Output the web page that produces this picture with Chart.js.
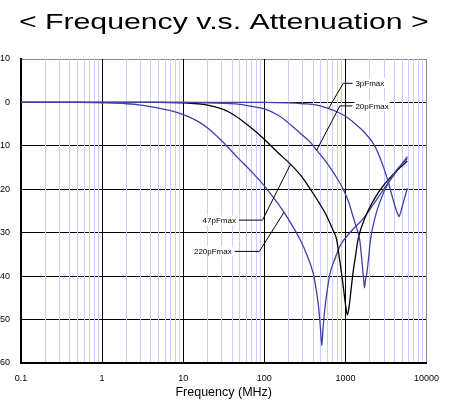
<!DOCTYPE html>
<html><head><meta charset="utf-8">
<script src="https://cdn.jsdelivr.net/npm/chart.js@4.4.1/dist/chart.umd.min.js"></script>
<style>html,body{margin:0;padding:0;background:#fff;}</style>
</head><body>
<canvas id="c" width="449" height="400"></canvas>
<script>
const titleText = '< Frequency v.s. Attenuation >';
const xAxisTitle = 'Frequency (MHz)';
const xDecades = [0.1, 1, 10, 100, 1000, 10000];
const xTickLabels = ['0.1', '1', '10', '100', '1000', '10000'];
const xMinorSteps = [2, 3, 4, 5, 6, 7, 8, 9];
const yTicks = [10, 0, -10, -20, -30, -40, -50, -60];
const yTickLabels = ['10', '0', '-10', '-20', '-30', '-40', '-50', '-60'];

const seriesNames = ['3pFmax', '20pFmax', '47pFmax', '220pFmax'];
const seriesColors = ['rgb(64,64,168)', 'rgb(64,64,168)', '#000000', 'rgb(64,64,168)'];

const f3  = [0.1, 100, 200, 300, 445, 600, 800, 1000, 1300, 1700, 2300, 2900, 3400, 3800, 4200, 4450, 4580, 4750, 5060, 5800];
const db3 = [0, 0, -0.1, -0.3, -0.6, -1.3, -2.2, -3.2, -4.8, -6.8, -10, -14.5, -18.5, -21.8, -24.6, -25.8, -26.3, -25.6, -23.7, -19.8];

const f20  = [0.1, 10, 20, 30, 47, 70, 100, 150, 195, 270, 370, 470, 590, 750, 940, 1100, 1240, 1380, 1500, 1580, 1650, 1690, 1720, 1760, 1840, 1940, 2040, 2400, 3000, 4000, 5800];
const db20 = [0, 0, -0.1, -0.2, -0.4, -0.9, -1.5, -3.0, -4.6, -6.9, -9.2, -11.6, -13.9, -16.8, -20.0, -23.0, -26.2, -29.0, -31.6, -35.5, -39.3, -41.2, -42.7, -41.2, -39.3, -35.5, -31.6, -25.5, -20.5, -16.3, -12.9];

const f47  = [0.1, 1, 5, 10, 15, 20, 30, 40, 57, 75, 100, 150, 210, 290, 370, 470, 590, 700, 780, 850, 920, 970, 1011, 1060, 1112, 1170, 1240, 1330, 1430, 1800, 2400, 3200, 4300, 5800];
const db47 = [0, 0, 0, -0.1, -0.3, -0.6, -1.5, -2.6, -4.6, -6.4, -8.5, -11.7, -14.2, -17.1, -20.0, -23.0, -26.2, -29.3, -31.6, -36.3, -40.9, -44.4, -47, -48.9, -47, -43.4, -39.3, -35.5, -31.6, -26, -21.5, -18.3, -15.7, -13.5];

const f220  = [0.1, 0.5, 1, 2, 3, 5, 7, 10, 15, 20, 30, 47, 70, 100, 150, 200, 280, 340, 400, 440, 470, 495, 512, 530, 562, 600, 647, 750, 855, 1200, 1650, 2300, 3160, 4300, 5800];
const db220 = [0, 0, -0.1, -0.3, -0.6, -1.3, -1.9, -2.8, -4.3, -5.9, -8.9, -12.7, -16.0, -19.2, -23.5, -27.0, -31.8, -35.4, -39.3, -43.5, -47.5, -52.5, -56, -52, -47, -43, -39.3, -35.8, -33.1, -29.5, -26.8, -23.0, -19.3, -15.8, -12.5];

const seriesF = [f3, f20, f47, f220];
const seriesDb = [db3, db20, db47, db220];

// leader-line annotations (data coordinates)
const annLabels = ['3pFmax', '20pFmax', '47pFmax', '220pFmax'];
const annTipF = [620, 443, 211, 175];
const annTipDb = [-1.4, -11.0, -14.2, -25.3];
const annElbowF = [940, 855, 95, 87];
const annElbowDb = [4.4, -0.8, -27.1, -34.3];
const annEndF = [1220, 1220, 48.7, 43.2];
const annSide = ['right', 'right', 'left', 'left'];

const FONT = '"Liberation Sans", Arial, Helvetica, sans-serif';

const allXTicks = [];
xDecades.forEach((d, i) => {
  allXTicks.push(d);
  if (i < xDecades.length - 1) xMinorSteps.forEach(m => allXTicks.push(+(d * m).toPrecision(6)));
});
function decadeIndex(v) {
  return xDecades.findIndex(d => Math.abs(d - v) / d < 1e-6);
}

const titlePlugin = {
  id: 'stretchTitle',
  afterDraw(chart) {
    const ctx = chart.ctx;
    const a = chart.chartArea;
    ctx.save();
    ctx.font = '22px ' + FONT;
    ctx.fillStyle = '#000';
    ctx.textAlign = 'center';
    ctx.textBaseline = 'alphabetic';
    ctx.translate((a.left + a.right) / 2, 29.3);
    ctx.scale(1.375, 1);
    ctx.fillText(titleText, 0, 0);
    ctx.restore();
  }
};

const leaderPlugin = {
  id: 'leaders',
  afterDatasetsDraw(chart) {
    const ctx = chart.ctx;
    const xs = chart.scales.x, ys = chart.scales.y;
    ctx.save();
    ctx.font = '8px ' + FONT;
    ctx.textBaseline = 'middle';
    annLabels.forEach((lab, i) => {
      const tx = xs.getPixelForValue(annTipF[i]), ty = ys.getPixelForValue(annTipDb[i]);
      const ex = xs.getPixelForValue(annElbowF[i]), ey = ys.getPixelForValue(annElbowDb[i]);
      const sx = xs.getPixelForValue(annEndF[i]);
      const w = ctx.measureText(lab).width;
      const textX = annSide[i] === 'right' ? sx + 3 : sx - 3 - w;
      ctx.fillStyle = '#fff';
      ctx.fillRect(textX - 1, ey - 5, w + 2, 10);
      ctx.strokeStyle = '#000';
      ctx.lineWidth = 1;
      ctx.beginPath();
      ctx.moveTo(tx, ty);
      ctx.lineTo(ex, ey);
      ctx.lineTo(sx, ey);
      ctx.stroke();
      ctx.fillStyle = '#000';
      ctx.textAlign = 'left';
      ctx.fillText(lab, textX, ey + 0.5);
    });
    ctx.restore();
  }
};

new Chart(document.getElementById('c'), {
  type: 'line',
  data: {
    datasets: seriesNames.map((n, k) => ({
      label: n,
      data: seriesF[k].map((f, i) => ({ x: f, y: seriesDb[k][i] })),
      borderColor: seriesColors[k],
      borderWidth: 1.3,
      pointRadius: 0,
      fill: false,
      cubicInterpolationMode: 'monotone'
    }))
  },
  options: {
    responsive: false,
    animation: false,
    devicePixelRatio: 1,
    layout: { padding: { top: 59, right: 19, left: 0, bottom: 0 } },
    plugins: { legend: { display: false }, tooltip: { enabled: false }, title: { display: false } },
    scales: {
      x: {
        type: 'logarithmic',
        min: 0.1, max: 10000,
        afterBuildTicks: s => { s.ticks = allXTicks.map(v => ({ value: v })); },
        afterFit: s => { s.height = 37; },
        ticks: {
          autoSkip: false, maxRotation: 0, minRotation: 0, padding: 10,
          font: { size: 9, family: FONT }, color: '#000',
          callback: (v) => { const i = decadeIndex(v); return i >= 0 ? xTickLabels[i] : ''; }
        },
        grid: {
          drawTicks: false, z: -1, lineWidth: 1,
          color: c => {
            const v = c.tick ? c.tick.value : 0;
            const i = decadeIndex(v);
            if (i === xDecades.length - 1) return '#888';
            return i >= 0 ? '#000' : '#ccccff';
          }
        },
        border: { color: '#000', width: 2 },
        title: { display: true, text: xAxisTitle, color: '#000', font: { size: 12.5, family: FONT }, padding: { top: 0, bottom: 0 } }
      },
      y: {
        type: 'linear',
        min: -60, max: 10,
        afterBuildTicks: s => { s.ticks = yTicks.map(v => ({ value: v })); },
        afterFit: s => { s.width = 21; },
        ticks: {
          padding: 11, font: { size: 9, family: FONT }, color: '#000',
          callback: v => yTickLabels[yTicks.indexOf(v)]
        },
        grid: {
          drawTicks: false, z: -2, lineWidth: 1,
          color: c => (c.tick && c.tick.value === 10) ? '#888' : '#000'
        },
        border: { color: '#000', width: 2 }
      }
    }
  },
  plugins: [titlePlugin, leaderPlugin]
});
</script>
</body></html>
